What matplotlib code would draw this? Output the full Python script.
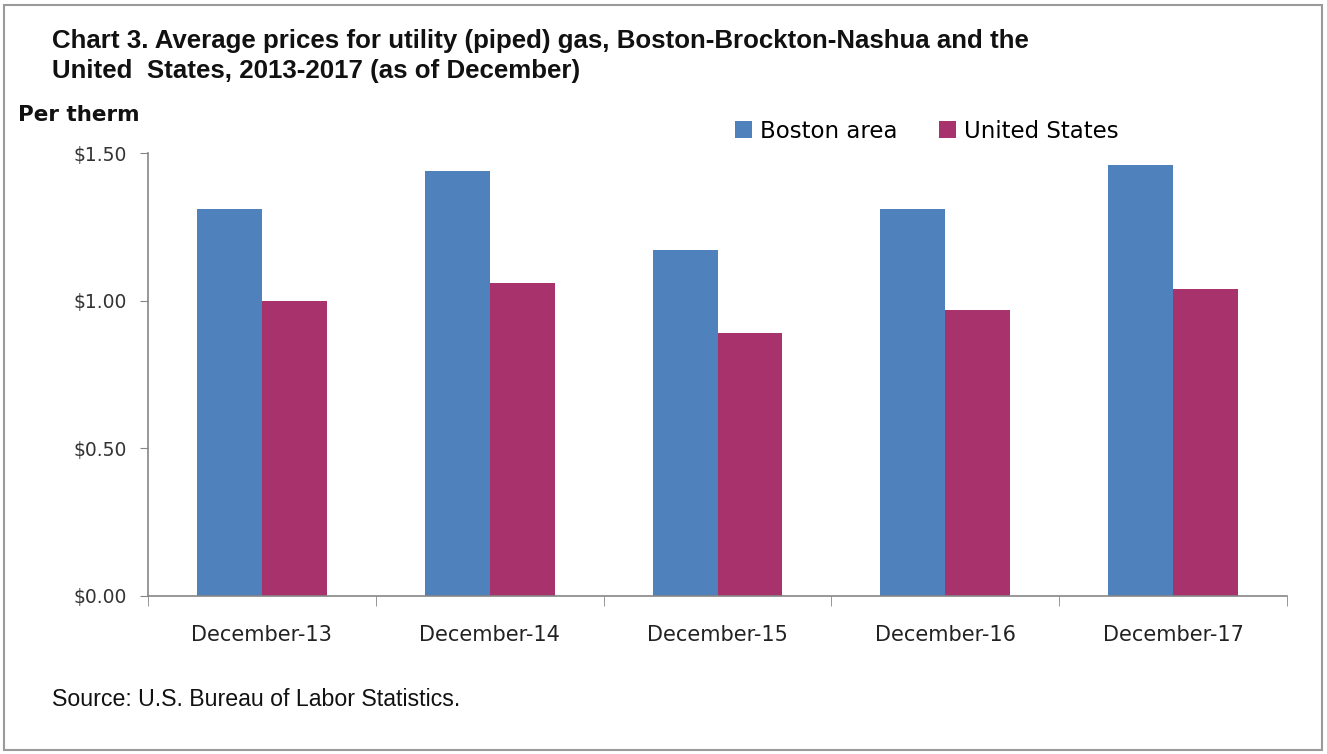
import matplotlib
matplotlib.use("Agg")
import matplotlib.pyplot as plt
from matplotlib.patches import Rectangle
import numpy as np

categories = ["December-13", "December-14", "December-15", "December-16", "December-17"]
boston = [1.31, 1.44, 1.17, 1.31, 1.46]
us = [1.00, 1.06, 0.89, 0.97, 1.04]
yticks = [0.0, 0.5, 1.0, 1.5]
ytick_labels = ["$0.00", "$0.50", "$1.00", "$1.50"]

blue = "#4F81BD"
mag = "#A8326C"
axis_col = "#868686"

fig = plt.figure(figsize=(13.27, 7.54), dpi=100)
ax = fig.add_axes([148/1327, 1 - 596/754, (1287-148)/1327, (596-153)/754])

x = np.arange(len(categories))
w = 0.285
ax.bar(x - w/2, boston, width=w, color=blue, label="Boston area")
ax.bar(x + w/2, us, width=w, color=mag, label="United States")

ax.set_xlim(-0.5, len(categories) - 0.5)
ax.set_ylim(0, 1.5)
ax.set_yticks(yticks)
ax.set_yticklabels(ytick_labels, fontsize=13.5, color="#333333", family="DejaVu Sans")
ax.set_xticks(x)
ax.set_xticklabels(categories, fontsize=15, color="#222222", family="DejaVu Sans")
ax.set_xticks(np.arange(len(categories) + 1) - 0.5, minor=True)
ax.tick_params(axis="x", which="major", length=0, pad=21)
ax.tick_params(axis="x", which="minor", length=7, color=axis_col, direction="out")
ax.tick_params(axis="y", length=6, color=axis_col, direction="out", pad=9)
for s in ["top", "right"]:
    ax.spines[s].set_visible(False)
for s in ["left", "bottom"]:
    ax.spines[s].set_color(axis_col)
    ax.spines[s].set_linewidth(1.2)

fig.text(52/1327, 1 - 29/754, "Chart 3. Average prices for utility (piped) gas, Boston-Brockton-Nashua and the\nUnited  States, 2013-2017 (as of December)",
         fontsize=18.6, family=["Liberation Sans Narrow", "Liberation Sans", "DejaVu Sans"], fontweight="bold",
         va="top", ha="left", color="#111111", linespacing=1.3)
fig.text(18/1327, 1 - 115/754, "Per therm", fontsize=15.5, family="DejaVu Sans", fontweight="bold",
         va="center", ha="left", color="#111111")
fig.text(52/1327, 1 - 699/754, "Source: U.S. Bureau of Labor Statistics.", fontsize=16.7,
         family=["Liberation Sans Narrow", "Liberation Sans", "DejaVu Sans"], va="center", ha="left", color="#111111")

leg = ax.legend(loc="center left", bbox_to_anchor=(735/1327, 1 - 131/754), bbox_transform=fig.transFigure,
                ncol=2, frameon=False, handlelength=0.75, handleheight=0.75, borderpad=0, borderaxespad=0,
                columnspacing=1.8, handletextpad=0.35, prop={"family": "DejaVu Sans", "size": 16.5})

fig.patches.append(Rectangle((4/1327, 4/754), 1 - 9/1327, 1 - 9/754, transform=fig.transFigure,
                             fill=False, edgecolor="#9a9a9a", linewidth=1.5))

fig.savefig("out.png", dpi=100)
